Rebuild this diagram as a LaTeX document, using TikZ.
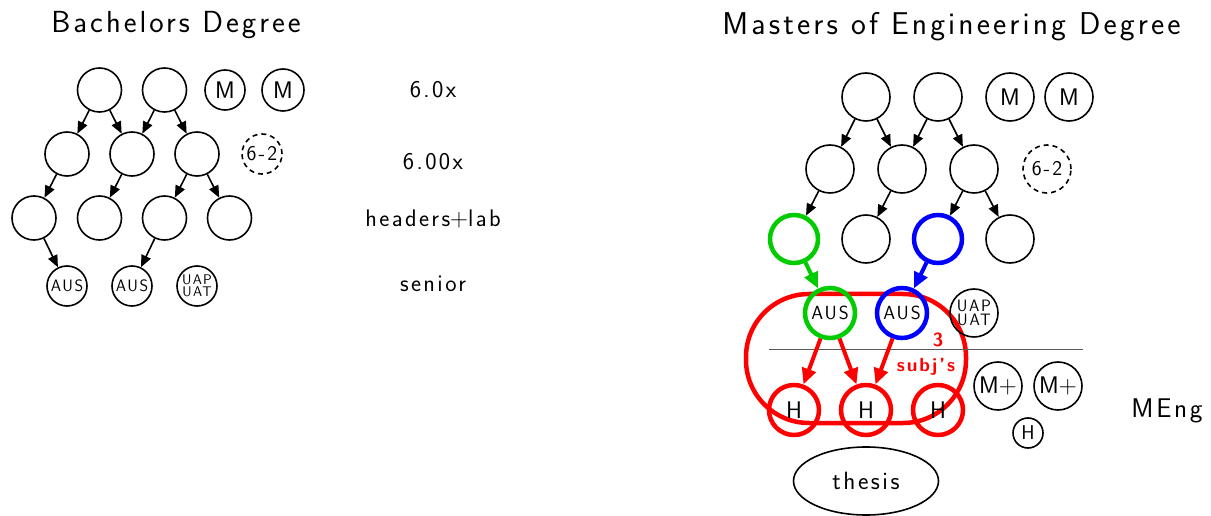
\documentclass[tikz,border=0pt]{standalone}
\usepackage{fontspec}
\setsansfont{Latin Modern Sans}[LetterSpace=10]
\renewcommand{\familydefault}{\sfdefault}
\usetikzlibrary{shapes.geometric,arrows.meta}
\definecolor{mitgreen}{RGB}{0,204,0}
\definecolor{rulegray}{RGB}{90,90,90}

\begin{document}
\begin{tikzpicture}[x=1pt, y=-1pt]
            \tikzstyle{title} = [anchor=base, font=\fontsize{30.5}{35}\selectfont]
            \tikzstyle{level} = [anchor=base, font=\fontsize{24}{28}\selectfont]
            \tikzstyle{course} = [circle, draw, line width=1.6pt, minimum size=44pt, inner sep=0pt, font=\fontsize{24}{28}\selectfont]
            \tikzstyle{small} = [course, minimum size=40pt, font=\fontsize{16.5}{18}\selectfont]
            \tikzstyle{tiny} = [course, minimum size=40pt, font=\fontsize{14}{12.5}\selectfont, align=center]
            \tikzstyle{big} = [course, minimum size=48pt, font=\fontsize{24}{28}\selectfont]
            \tikzstyle{bigsmall} = [big, minimum size=50pt, font=\fontsize{19}{22}\selectfont]
            \tikzstyle{bigtiny} = [big, font=\fontsize{16.5}{14.5}\selectfont, align=center]
            \tikzstyle{optional} = [dashed, dash pattern=on 5pt off 4pt, font=\fontsize{21}{24}\selectfont]
            \tikzstyle{pick} = [line width=4.5pt]
            \tikzstyle{prereq} = [-{Triangle[length=12pt,width=10pt]}, line width=1.6pt]
            \tikzstyle{chosen} = [-{Triangle[length=16pt,width=14pt]}, line width=4pt]
            \tikzstyle{note} = [text=red, font=\bfseries\fontsize{19}{22}\selectfont]

            \node [title] (btitle) at (176,33) {Bachelors Degree};
            \node [title, font=\fontsize{31.5}{36}\selectfont] (mtitle) at (951.5,35) {Masters of Engineering Degree};

            \node [course] (b11) at (99.5,90) {};
            \node [course] (b12) at (164.5,90) {};
            \node [course, minimum size=40pt] (bm1) at (225,90) {M};
            \node [course, minimum size=42pt] (bm2) at (283,90) {M};
            \node [course] (b21) at (67,154) {};
            \node [course] (b22) at (132,154) {};
            \node [course] (b23) at (197,154) {};
            \node [small, optional] (b62) at (262,154) {6-2};
            \node [course] (b31) at (34,218) {};
            \node [course] (b32) at (99.5,218) {};
            \node [course] (b33) at (164.5,218) {};
            \node [course] (b34) at (229.5,218) {};
            \node [small] (b41) at (67,286) {AUS};
            \node [small] (b42) at (132,286) {AUS};
            \node [tiny] (b43) at (197,286) {UAP\\UAT};

            \draw [prereq] (b11) -- (b21);
            \draw [prereq] (b11) -- (b22);
            \draw [prereq] (b12) -- (b22);
            \draw [prereq] (b12) -- (b23);
            \draw [prereq] (b21) -- (b31);
            \draw [prereq] (b22) -- (b32);
            \draw [prereq] (b23) -- (b33);
            \draw [prereq] (b23) -- (b34);
            \draw [prereq] (b31) -- (b41);
            \draw [prereq] (b33) -- (b42);

            \node [level] (l1) at (433,98) {6.0x};
            \node [level] (l2) at (433,170) {6.00x};
            \node [level] (l3) at (433,227) {headers$+$lab};
            \node [level] (l4) at (433,292) {senior};

            \draw [red, line width=4.5pt, rounded corners=63pt] (746,294) rectangle (966,423);
            \coordinate (cutl) at (769,349);
            \coordinate (cutr) at (1083,349);
            \draw [rulegray, line width=1pt] (cutl) -- (cutr);

            \node [big] (m11) at (866,97) {};
            \node [big] (m12) at (938,97) {};
            \node [big] (mm1) at (1010,97) {M};
            \node [big] (mm2) at (1069,97) {M};
            \node [big] (m21) at (830,169) {};
            \node [big] (m22) at (902,169) {};
            \node [big] (m23) at (974,169) {};
            \node [big, optional] (m62) at (1047,169) {6-2};
            \node [big, pick, mitgreen] (m31) at (794,239) {};
            \node [big] (m32) at (866,239) {};
            \node [big, pick, blue] (m33) at (938,239) {};
            \node [big] (m34) at (1010,239) {};
            \node [bigsmall, pick, mitgreen, text=black] (m41) at (830,313) {AUS};
            \node [bigsmall, pick, blue, text=black] (m42) at (902,313) {AUS};
            \node [bigtiny] (m43) at (974,313) {UAP\\UAT};
            \node [big, pick, red, minimum size=50pt, text=black] (h1) at (794,410) {H};
            \node [big, pick, red, minimum size=50pt, text=black] (h2) at (866,410) {H};
            \node [big, pick, red, minimum size=50pt, text=black] (h3) at (938,410) {H};
            \node [big] (mp1) at (998,386) {M$+$};
            \node [big] (mp2) at (1058,386) {M$+$};
            \node [big, minimum size=30pt, font=\fontsize{20}{22}\selectfont] (mh) at (1028,433) {H};
            \node [ellipse, draw, line width=1.6pt, minimum width=145pt, minimum height=68pt, font=\fontsize{25}{29}\selectfont] (thesis) at (866,481) {thesis};
            \node [note] (three) at (938,340) {3};
            \node [note] (subjs) at (926,367) {subj's};
            \node [level, font=\fontsize{27}{31}\selectfont] (meng) at (1167,417) {MEng};

            \draw [prereq] (m11) -- (m21);
            \draw [prereq] (m11) -- (m22);
            \draw [prereq] (m12) -- (m22);
            \draw [prereq] (m12) -- (m23);
            \draw [prereq] (m21) -- (m31);
            \draw [prereq] (m22) -- (m32);
            \draw [prereq] (m23) -- (m33);
            \draw [prereq] (m23) -- (m34);
            \draw [chosen, mitgreen] (m31) -- (m41);
            \draw [chosen, blue] (m33) -- (m42);
            \draw [chosen, red] (m41) -- (h1);
            \draw [chosen, red] (m41) -- (h2);
            \draw [chosen, red] (m42) -- (h2);

            \useasboundingbox (0,0) rectangle (1211,514);
\end{tikzpicture}
\end{document}
